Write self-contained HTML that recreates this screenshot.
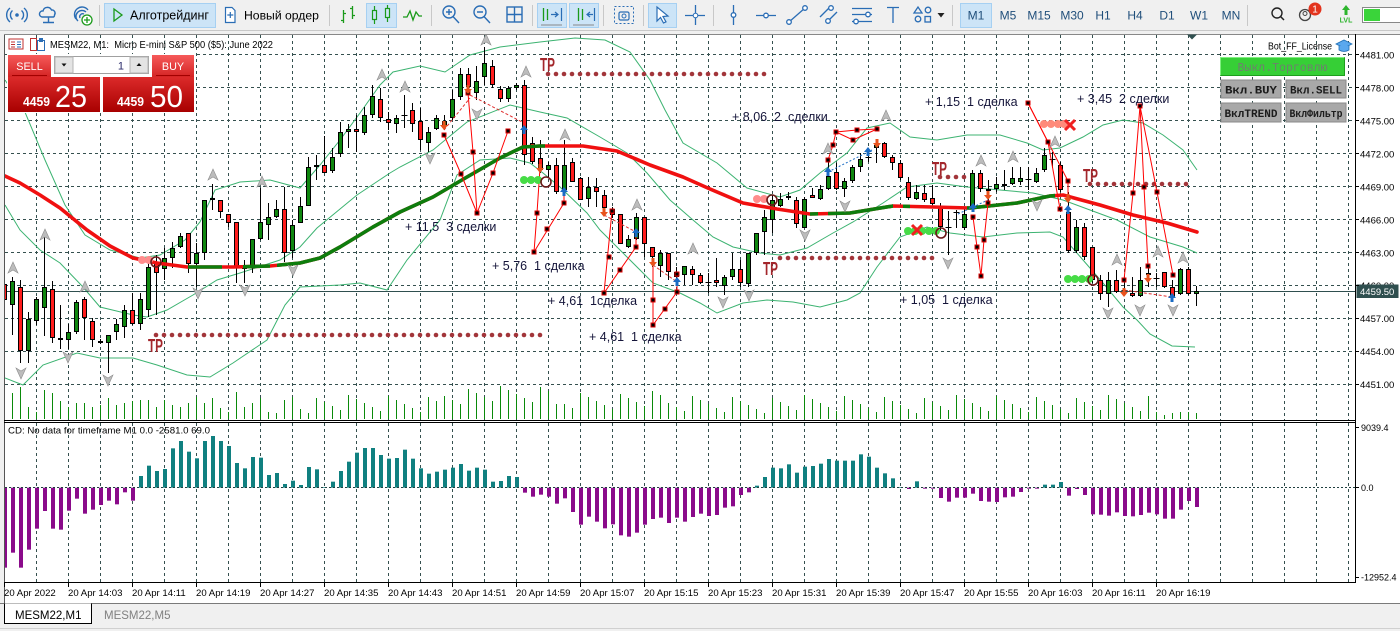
<!DOCTYPE html>
<html><head><meta charset="utf-8">
<style>
html,body{margin:0;padding:0;background:#fff;width:1400px;height:631px;overflow:hidden}
svg{display:block;font-family:"Liberation Sans",sans-serif}
</style></head><body>
<svg id="s" width="1400" height="631" viewBox="0 0 1400 631" xmlns="http://www.w3.org/2000/svg">
<defs>
<clipPath id="cm"><rect x="5" y="35" width="1350" height="385"/></clipPath>
<clipPath id="ci"><rect x="5" y="423" width="1350" height="159"/></clipPath>
<clipPath id="gclip">
<rect x="188" y="0" width="34" height="631"/><rect x="243" y="0" width="27" height="631"/>
<rect x="277" y="0" width="268" height="631"/><rect x="810" y="0" width="8" height="631"/>
<rect x="828" y="0" width="65" height="631"/><rect x="903" y="0" width="7" height="631"/>
<rect x="967" y="0" width="88" height="631"/>
</clipPath>
<linearGradient id="gs" x1="0" y1="0" x2="0" y2="1"><stop offset="0" stop-color="#f65a5a"/><stop offset="1" stop-color="#d42424"/></linearGradient>
<linearGradient id="gp" x1="0" y1="0" x2="0" y2="1"><stop offset="0" stop-color="#dc2a2a"/><stop offset="1" stop-color="#a80000"/></linearGradient>
</defs>

<!-- toolbar -->
<rect x="0" y="0" width="1400" height="31" fill="#f0f0f0"/>
<line x1="0" y1="30.5" x2="1400" y2="30.5" stroke="#c8c8c8"/>
<g fill="none" stroke="#2a6db5" stroke-width="1.4">
<circle cx="17" cy="15" r="1.8" fill="#2a6db5" stroke="none"/>
<path d="M12.5,10.5 A6,6 0 0,0 12.5,19.5 M21.5,10.5 A6,6 0 0,1 21.5,19.5 M10,8 A9,9 0 0,0 10,22 M24,8 A9,9 0 0,1 24,22"/>
<path d="M42,17 a3,3 0 0,1 1,-6 a4.5,4.5 0 0,1 8.5,-1 a3.2,3.2 0 0,1 3,5 a2,2 0 0,1 -1,2 z M48.5,17 V22 M43,22.5 H54"/>
<path d="M76,19 A7,7 0 0,1 88,10 M78,21 A5,5 0 0,1 86,12 M80,18 A3,3 0 0,1 84,14"/>
</g>
<circle cx="87" cy="20" r="5" fill="#fff" stroke="#1a9a1a" stroke-width="1.3"/>
<path d="M87,17 V23 M84,20 H90" stroke="#1a9a1a" stroke-width="1.3"/>
<line x1="99.5" y1="5" x2="99.5" y2="26" stroke="#c8c8c8"/>
<rect x="104.5" y="3.5" width="111" height="24" fill="#cce4f7" stroke="#a6d0f2"/>
<path d="M114,9 L122,15 L114,21 Z" fill="none" stroke="#1a9a1a" stroke-width="1.3"/>
<text x="130" y="19.5" font-size="12.5" fill="#000">Алготрейдинг</text>
<path d="M225.5,7.5 H232 L235,10.5 V22.5 H225.5 Z" fill="#fff" stroke="#2a6db5" stroke-width="1.2"/>
<path d="M230.3,12 V18 M227.3,15 H233.3" stroke="#2a6db5" stroke-width="1.2"/>
<text x="244" y="19.5" font-size="12.2" fill="#000">Новый ордер</text>
<line x1="329.5" y1="5" x2="329.5" y2="26" stroke="#c8c8c8"/>
<path d="M343.5,10 V23 M341,20.5 H343.5 M343.5,13.5 H346 M352.5,6 V19 M350,8.5 H352.5 M352.5,15.5 H355" stroke="#1a9a1a" stroke-width="1.3" fill="none"/>
<rect x="366.5" y="3.5" width="30" height="24" fill="#cce4f7" stroke="#a6d0f2"/>
<path d="M374.5,6 V24 M387.5,5 V22" stroke="#1a9a1a" stroke-width="1.2"/>
<rect x="372.5" y="10.5" width="4" height="9" fill="#cce4f7" stroke="#1a9a1a" stroke-width="1.2"/>
<rect x="385.5" y="8.5" width="4" height="9" fill="#cce4f7" stroke="#1a9a1a" stroke-width="1.2"/>
<polyline points="403,17 407,17 410,11 413,20 416,12 419,16 422,16" fill="none" stroke="#1a9a1a" stroke-width="1.3"/>
<line x1="431.5" y1="5" x2="431.5" y2="26" stroke="#c8c8c8"/>
<g fill="none" stroke="#2a6db5" stroke-width="1.4">
<circle cx="449" cy="12" r="6"/><path d="M453,16.5 L459,23 M446,12 H452 M449,9 V15"/>
<circle cx="480" cy="12" r="6"/><path d="M484,16.5 L490,23 M477,12 H483"/>
<rect x="507" y="7" width="15" height="15"/><path d="M514.5,7 V22 M507,14.5 H522"/>
</g>
<line x1="532.5" y1="5" x2="532.5" y2="26" stroke="#c8c8c8"/>
<rect x="537.5" y="3.5" width="29" height="24" fill="#cce4f7" stroke="#a6d0f2"/>
<rect x="569.5" y="3.5" width="29" height="24" fill="#cce4f7" stroke="#a6d0f2"/>
<path d="M543.5,8 V21 M547.5,9 V20 M578.5,8 V21 M582.5,9 V20" stroke="#1a9a1a" stroke-width="1.3"/>
<path d="M551,14.5 H558 M555,12 L558,14.5 L555,17 M561.5,8 V21 M594.5,8 V21 M587,14.5 H593 M590,12 L587,14.5 L590,17" stroke="#2a6db5" stroke-width="1.2" fill="none"/>
<line x1="541" y1="25" x2="562" y2="25" stroke="#888"/><line x1="573" y1="25" x2="594" y2="25" stroke="#888"/>
<line x1="603.5" y1="5" x2="603.5" y2="26" stroke="#c8c8c8"/>
<rect x="614.5" y="6.5" width="19" height="17" fill="none" stroke="#2a6db5" stroke-dasharray="2,2"/>
<rect x="619" y="12" width="10" height="8" rx="1.5" fill="none" stroke="#2a6db5" stroke-width="1.2"/><circle cx="624" cy="16" r="2" fill="none" stroke="#2a6db5"/>
<line x1="643.5" y1="5" x2="643.5" y2="26" stroke="#c8c8c8"/>
<rect x="648.5" y="3.5" width="28" height="24" fill="#cce4f7" stroke="#a6d0f2"/>
<path d="M657,7 L657,21 L660.5,17.5 L663.5,23 L666,21.8 L663,16.5 L668,16 Z" fill="#fff" stroke="#2a6db5" stroke-width="1.2"/>
<path d="M695.5,5 V25 M685,15.5 H705" stroke="#2a6db5" stroke-width="1.3"/><circle cx="695.5" cy="15.5" r="2.3" fill="#fff" stroke="#2a6db5"/>
<line x1="713.5" y1="5" x2="713.5" y2="26" stroke="#c8c8c8"/>
<g stroke="#2a6db5" stroke-width="1.3" fill="#fff">
<line x1="733.5" y1="5" x2="733.5" y2="25"/><circle cx="733.5" cy="15" r="2.3"/>
<line x1="756" y1="15.5" x2="776" y2="15.5"/><circle cx="766" cy="15.5" r="2.3"/>
<line x1="789" y1="22" x2="805" y2="8"/><circle cx="789" cy="22" r="2.3"/><circle cx="805" cy="8" r="2.3"/>
<line x1="820" y1="17" x2="830" y2="7"/><line x1="826" y1="23" x2="837" y2="12"/><circle cx="828" cy="21" r="2.3"/><circle cx="831" cy="8" r="2.3"/>
<line x1="852" y1="8.5" x2="872" y2="8.5"/><line x1="852" y1="14.5" x2="872" y2="14.5"/><line x1="852" y1="21.5" x2="872" y2="21.5"/><circle cx="868" cy="14.5" r="2.3"/><circle cx="856" cy="21.5" r="2.3"/>
<path d="M887,7.5 H899 M893,7.5 V23" fill="none"/>
<path d="M914,13 L918,7 L922,13 Z" fill="none"/><circle cx="928" cy="10" r="2.8" fill="none"/><circle cx="918" cy="19" r="2.8" fill="none"/><rect x="925" y="16.5" width="5.5" height="5.5" fill="none"/>
</g>
<path d="M937.5,13 H944.5 L941,17.5 Z" fill="#222"/>
<line x1="952.5" y1="5" x2="952.5" y2="26" stroke="#c8c8c8"/>
<rect x="960.5" y="3.5" width="31" height="24" fill="#cce4f7" stroke="#a6d0f2"/>
<g font-size="12" fill="#1f4e7a" text-anchor="middle">
<text x="976" y="19.5">M1</text><text x="1008" y="19.5">M5</text><text x="1039" y="19.5">M15</text><text x="1072" y="19.5">M30</text><text x="1103" y="19.5">H1</text><text x="1135" y="19.5">H4</text><text x="1167" y="19.5">D1</text><text x="1199" y="19.5">W1</text><text x="1231" y="19.5">MN</text>
</g>
<line x1="1247.5" y1="5" x2="1247.5" y2="26" stroke="#c8c8c8"/>
<circle cx="1277" cy="13" r="5" fill="none" stroke="#222" stroke-width="1.4"/><line x1="1280.5" y1="16.5" x2="1284" y2="20" stroke="#222" stroke-width="1.5"/>
<circle cx="1305" cy="15" r="5.5" fill="none" stroke="#444" stroke-width="1.3"/><circle cx="1305" cy="13.5" r="2" fill="none" stroke="#444"/>
<circle cx="1315" cy="9" r="6.5" fill="#e3331d"/><text x="1315" y="12.5" font-size="10" fill="#fff" text-anchor="middle">1</text>
<path d="M1346,5 L1350,10 H1347.5 V15 H1344.5 V10 H1342 Z" fill="#2db52d"/>
<text x="1346" y="22.5" font-size="7" fill="#2db52d" text-anchor="middle" font-weight="bold">LVL</text>
<rect x="1362.5" y="7.5" width="40" height="15" fill="#fff" stroke="#888"/><rect x="1364" y="9" width="16" height="12" fill="#3ad43a"/>

<!-- window frame -->
<rect x="0" y="31" width="1400" height="3" fill="#f0f0f0"/>
<rect x="0" y="31" width="4" height="600" fill="#f0f0f0"/>
<line x1="4.5" y1="34" x2="4.5" y2="603" stroke="#555"/>
<line x1="4" y1="34.5" x2="1400" y2="34.5" stroke="#888"/>

<g id="grid" stroke="#35504f" stroke-width="1" stroke-dasharray="3,3" fill="none"></g>

<g clip-path="url(#cm)">
<g id="bands" fill="none" stroke="#3cb371" stroke-width="1"></g>
<g id="vol" stroke="#0a8a0a" stroke-width="1"></g>
<line x1="5" y1="291.5" x2="1355" y2="291.5" stroke="#2f4f4f" stroke-width="1"/>
<g id="candles"></g>
<g id="ma" fill="none" stroke-width="3.6" stroke-linejoin="round" stroke-linecap="round"></g>
<g id="tp" fill="#a2353a"></g>
<g id="trades"></g>
<g id="marks"></g>
</g>
<g clip-path="url(#ci)" id="hist"></g>
<line x1="5" y1="487.5" x2="1355" y2="487.5" stroke="#1f3f3f" stroke-dasharray="2,2"/>

<!-- separators / axes -->
<line x1="4" y1="420.5" x2="1356" y2="420.5" stroke="#000"/>
<line x1="4" y1="422.5" x2="1356" y2="422.5" stroke="#000"/>
<line x1="1355.5" y1="34" x2="1355.5" y2="583" stroke="#000"/>
<line x1="4" y1="582.5" x2="1356" y2="582.5" stroke="#000"/>
<path d="M1187,34.5 H1197 L1192,39.5 Z" fill="#2f4f4f"/>

<!-- price axis -->
<g font-size="9.5" fill="#000">
<text x="1360" y="58.5">4481.00</text>
<text x="1360" y="91.5">4478.00</text>
<text x="1360" y="124.5">4475.00</text>
<text x="1360" y="157.5">4472.00</text>
<text x="1360" y="190.5">4469.00</text>
<text x="1360" y="223.5">4466.00</text>
<text x="1360" y="256.5">4463.00</text>
<text x="1360" y="289">4460.00</text>
<text x="1360" y="322">4457.00</text>
<text x="1360" y="355">4454.00</text>
<text x="1360" y="388">4451.00</text>
</g>
<rect x="1356.5" y="284.5" width="42" height="13.5" fill="#2f4f4f"/>
<text x="1360" y="295" font-size="9.5" fill="#fff">4459.50</text>
<g font-size="9" fill="#000">
<text x="1361" y="431">9039.4</text>
<text x="1361" y="491">0.0</text>
<text x="1361" y="580.5">-12952.4</text>
</g>
<text x="8" y="433.5" font-size="9" fill="#000" textLength="202" lengthAdjust="spacingAndGlyphs">CD: No data for timeframe M1 0.0 -2581.0 69.0</text>

<!-- time axis -->
<g font-size="9.6" fill="#000">
<text x="4" y="596">20 Apr 2022</text>
<text x="68" y="596">20 Apr 14:03</text>
<text x="132" y="596">20 Apr 14:11</text>
<text x="196" y="596">20 Apr 14:19</text>
<text x="260" y="596">20 Apr 14:27</text>
<text x="324" y="596">20 Apr 14:35</text>
<text x="388" y="596">20 Apr 14:43</text>
<text x="452" y="596">20 Apr 14:51</text>
<text x="516" y="596">20 Apr 14:59</text>
<text x="580" y="596">20 Apr 15:07</text>
<text x="644" y="596">20 Apr 15:15</text>
<text x="708" y="596">20 Apr 15:23</text>
<text x="772" y="596">20 Apr 15:31</text>
<text x="836" y="596">20 Apr 15:39</text>
<text x="900" y="596">20 Apr 15:47</text>
<text x="964" y="596">20 Apr 15:55</text>
<text x="1028" y="596">20 Apr 16:03</text>
<text x="1092" y="596">20 Apr 16:11</text>
<text x="1156" y="596">20 Apr 16:19</text>
</g>

<!-- tabs -->
<rect x="0" y="603" width="1400" height="28" fill="#f0f0f0"/>
<line x1="0" y1="603.5" x2="1400" y2="603.5" stroke="#7a7a7a"/>
<path d="M4.5,603.5 V623.5 H91.5 V603.5" fill="#fff" stroke="#000"/>
<text x="15" y="619" font-size="11.5" fill="#000">MESM22,M1</text>
<text x="104" y="619" font-size="11.5" fill="#808080">MESM22,M5</text>
<line x1="0" y1="628.5" x2="1400" y2="628.5" stroke="#d0d0d0"/>

<!-- TP labels -->
<g font-size="18" font-weight="bold" fill="#a3262b">
<text x="540" y="71" textLength="15" lengthAdjust="spacingAndGlyphs">TP</text>
<text x="148" y="352" textLength="15" lengthAdjust="spacingAndGlyphs">TP</text>
<text x="763" y="275" textLength="15" lengthAdjust="spacingAndGlyphs">TP</text>
<text x="932" y="175" textLength="15" lengthAdjust="spacingAndGlyphs">TP</text>
<text x="1083" y="182" textLength="15" lengthAdjust="spacingAndGlyphs">TP</text>
</g>

<!-- annotations -->
<g font-size="12.5" fill="#15153a" xml:space="preserve">
<text x="405" y="231" xml:space="preserve">+ 11,5  3 сделки</text>
<text x="492" y="270" xml:space="preserve">+ 5,76  1 сделка</text>
<text x="548" y="305" xml:space="preserve">+ 4,61  1сделка</text>
<text x="589" y="341" xml:space="preserve">+ 4,61  1 сделка</text>
<text x="732" y="121" xml:space="preserve">+ 8,06  2  сделки</text>
<text x="925" y="106" xml:space="preserve">+ 1,15  1 сделка</text>
<text x="1077" y="103" xml:space="preserve">+ 3,45  2 сделки</text>
<text x="900" y="304" xml:space="preserve">+ 1,05  1 сделка</text>
</g>

<!-- chart header -->
<rect x="9" y="39" width="14" height="10" fill="#fff" stroke="#c03030"/>
<path d="M11,42 H15 M11,44.5 H15 M11,47 H15" stroke="#c03030"/><path d="M17,42 H21 M17,44.5 H21 M17,47 H21" stroke="#2a6db5"/>
<path d="M30.5,38.5 H36.5 V50.5 H30.5 Z" fill="#fff" stroke="#c03030"/><path d="M37.5,40.5 H44.5 V50.5 H37.5 Z" fill="#fff" stroke="#2a6db5"/><rect x="39" y="38" width="4" height="4" fill="#2a6db5"/>
<text x="50" y="48" font-size="9.7" fill="#000" textLength="223" lengthAdjust="spacingAndGlyphs" xml:space="preserve">MESM22, M1:  Micro E-mini S&amp;P 500 ($5): June 2022</text>

<!-- trade panel -->
<rect x="7" y="54" width="189" height="59" fill="#fff"/>
<rect x="8" y="55" width="43" height="22" fill="url(#gs)"/>
<line x1="12" y1="75.5" x2="47" y2="75.5" stroke="#a30000"/>
<text x="29.5" y="70" font-size="10.8" fill="#fff" text-anchor="middle">SELL</text>
<rect x="152" y="55" width="42" height="22" fill="url(#gs)"/>
<line x1="156" y1="75.5" x2="190" y2="75.5" stroke="#a30000"/>
<text x="173" y="70" font-size="10.8" fill="#fff" text-anchor="middle">BUY</text>
<rect x="54.5" y="56.5" width="94" height="17" fill="#fff" stroke="#a0a0a0"/>
<rect x="55" y="57" width="18" height="16" fill="#e4e4e4" stroke="#b5b5b5"/>
<rect x="130" y="57" width="18" height="16" fill="#e4e4e4" stroke="#b5b5b5"/>
<path d="M61.5,63.5 H66.5 L64,66.5 Z" fill="#111"/><path d="M136.5,66 H141.5 L139,63 Z" fill="#111"/>
<text x="124" y="69.5" font-size="11" fill="#2a2a6a" text-anchor="end">1</text>
<rect x="8" y="77" width="92" height="35" fill="url(#gp)"/>
<rect x="103" y="77" width="91" height="35" fill="url(#gp)"/>
<text x="23" y="106" font-size="12.5" font-weight="bold" fill="#fff" textLength="27" lengthAdjust="spacingAndGlyphs">4459</text>
<text x="55" y="107" font-size="31" fill="#fff" textLength="32" lengthAdjust="spacingAndGlyphs">25</text>
<text x="117" y="106" font-size="12.5" font-weight="bold" fill="#fff" textLength="27" lengthAdjust="spacingAndGlyphs">4459</text>
<text x="150" y="107" font-size="31" fill="#fff" textLength="33" lengthAdjust="spacingAndGlyphs">50</text>

<!-- right panel -->
<text x="1268" y="49.5" font-size="9.8" fill="#000" textLength="64" lengthAdjust="spacingAndGlyphs">Bot_FF_License</text>
<path d="M1336,44 L1344,40 L1352,44 L1344,48 Z" fill="#5aa8ee" stroke="#1f6fb5" stroke-width="0.8"/>
<path d="M1339,46 V50 Q1344,53 1349,50 V46" fill="#5aa8ee" stroke="#1f6fb5" stroke-width="0.8"/>
<rect x="1220" y="57" width="125" height="19" fill="#36cf36"/>
<path d="M1220.5,75.5 V57.5 H1344.5" fill="none" stroke="#7ff07f"/><path d="M1220.5,75.5 H1344.5 V57.5" fill="none" stroke="#1e9e1e"/>
<text x="1282.5" y="71" font-size="11.5" fill="#6f7f6f" text-anchor="middle" font-family="Liberation Mono, monospace" textLength="90" lengthAdjust="spacingAndGlyphs">Выкл.Торговлю</text>
<g font-family="Liberation Mono, monospace" font-weight="bold" font-size="11" fill="#1c1c1c" text-anchor="middle">
<rect x="1221" y="80" width="60" height="18" fill="#a8a8a8" stroke="#8a8a8a"/>
<rect x="1286" y="80" width="60" height="18" fill="#a8a8a8" stroke="#8a8a8a"/>
<rect x="1221" y="103" width="60" height="19" fill="#a8a8a8" stroke="#8a8a8a"/>
<rect x="1286" y="103" width="60" height="19" fill="#a8a8a8" stroke="#8a8a8a"/>
<text x="1251" y="93.5" textLength="52" lengthAdjust="spacingAndGlyphs">Вкл.BUY</text>
<text x="1316" y="93.5" textLength="52" lengthAdjust="spacingAndGlyphs">Вкл.SELL</text>
<text x="1251" y="117" textLength="53" lengthAdjust="spacingAndGlyphs">ВклTREND</text>
<text x="1316" y="117" textLength="53" lengthAdjust="spacingAndGlyphs">ВклФильтр</text>
</g>
</svg>

<script>
(function(){
var NS='http://www.w3.org/2000/svg';
function el(p,t,a){var e=document.createElementNS(NS,t);for(var k in a)e.setAttribute(k,a[k]);p.appendChild(e);return e;}
function $(id){return document.getElementById(id);}
var g=$('grid');
for(var k=1;k<=42;k++){var x=4.5+32*k;
 el(g,'line',{x1:x,y1:35,x2:x,y2:420});
 el(g,'line',{x1:x,y1:423,x2:x,y2:582});}
var hy=[54.5,87.5,120.5,153.5,186.5,219.5,252.5,285.5,318.5,351.5,384.5];
hy.forEach(function(y){el(g,'line',{x1:5,y1:y,x2:1355,y2:y});});
var tk=document.createElementNS(NS,'g');tk.setAttribute('stroke','#000');$('s').appendChild(tk);
hy.forEach(function(y){el(tk,'line',{x1:1355,y1:y,x2:1359,y2:y});});
[427.5,487.5,577.5].forEach(function(y){el(tk,'line',{x1:1355,y1:y,x2:1359,y2:y});});
for(var k=0;k<19;k++){var x=4.5+64*k;el(tk,'line',{x1:x,y1:582,x2:x,y2:587});}
var U="5,80 22,105 45,160 65,205 85,235 110,250 140,258 160,255 185,240 200,222 215,190 240,182 270,180 300,188 320,165 340,140 360,113 380,85 393,72 420,66 445,72 470,55 500,47 540,42 575,38 605,40 630,52 650,80 665,110 683,143 717,163 747,188 780,197 800,190 820,173 847,153 867,128 890,123 910,137 937,140 967,135 1000,135 1027,143 1043,150 1060,148 1083,137 1103,125 1123,120 1143,123 1163,135 1183,150 1197,170";
var M="5,205 20,230 40,250 60,263 83,287 100,307 133,315 147,317 167,310 193,295 217,280 240,273 280,260 300,247 317,228 357,195 390,173 400,167 433,150 467,122 510,105 540,112 567,118 600,137 627,153 647,173 670,200 693,220 713,237 733,247 760,253 780,255 807,248 833,233 853,222 883,203 907,187 937,183 967,187 1000,190 1033,193 1063,200 1090,210 1117,220 1150,237 1183,247 1197,253";
var L="5,378 23,385 43,365 77,353 100,358 133,358 157,365 187,375 210,377 233,363 267,340 285,305 300,287 340,285 360,283 387,290 407,260 440,220 457,175 480,160 510,158 530,163 543,173 560,187 587,213 600,230 627,257 653,283 680,293 700,303 717,313 743,303 767,300 793,302 820,307 847,300 860,293 877,267 900,237 927,227 950,233 983,237 1017,233 1050,232 1063,237 1083,260 1103,283 1123,307 1137,320 1150,334 1172,346 1195,347";
[U,M,L].forEach(function(p){el($('bands'),'polyline',{points:p});});
var VT={0:395,1:393,2:387,3:407,4:412,5:390,6:393,7:401,8:407,9:403,10:403,11:407,12:405,13:398,14:405,15:403,16:401,17:400,18:400,19:407,20:400,21:405,22:407,23:403,24:397,25:403,26:398,27:408,28:412,29:392,30:407,31:403,32:398,33:412,34:413,35:400,36:397,144:412,145:415,146:413,147:412,148:412,149:413};
for(var k=0;k<150;k++){var x=4.5+8*k;var t=VT[k];
 if(t===undefined){var b=(k>=55&&k<=68)?9:((k>=70&&k<=82)?4:0);t=419-(6+(k*53)%19+b);}
 el($('vol'),'line',{x1:x,y1:t,x2:x,y2:419});}
var C=[['r',284,300,280,303],['g',281,305,277,335],['r',287,351,280,363],['g',319,351,312,363],['g',299,321,297,325],['g',287,308,233,336],['r',289,338,281,343],['g',338,340,305,349],['g',332,340,324,349],['g',302,332,300,334],
['r',299,318,297,340],['r',321,340,318,347],['r',341,343,339,344],['g',335,343,335,373],['g',324,332,319,340],['g',310,327,305,338],['r',310,324,293,325],['g',299,324,293,330],['g',267,310,257,317],['r',262,273,255,315],
['g',258,269,248,280],['g',248,258,242,268],['g',236,247,233,248],['r',233,264,233,273],['g',253,264,243,287],['g',200,253,200,260],['g',198,200,184,210],['r',200,212,200,218],['r',214,223,214,227],['r',222,268,222,283],
['g',266,269,260,283],['g',239,268,239,273],['g',222,239,188,240],['g',217,225,203,240],['g',209,217,200,218],['r',209,253,187,262],['g',225,251,220,258],['g',206,223,197,223],['g',167,206,157,206],['r',165,167,155,180],
['r',165,173,136,173],['g',157,171,148,173],['g',132,154,122,157],['g',129,132,124,148],['r',129,132,115,152],['g',115,133,107,135],['g',96,115,85,118],['r',99,118,88,122],['r',119,123,112,130],['g',118,124,115,133],
['d',115,115,95,128],['r',110,124,103,132],['r',121,140,108,150],['g',132,143,127,152],['g',118,129,115,130],['g',121,126,115,130],['g',99,118,90,120],['g',74,97,68,100],['r',74,87,68,95],['g',81,93,66,100],
['g',63,77,47,85],['r',66,85,60,88],['r',89,99,86,102],['g',88,99,86,102],['g',85,88,83,90],['r',85,155,80,165],['r',143,162,137,164],['r',158,170,140,173],['g',165,170,162,177],['r',165,192,158,194],
['g',165,190,140,192],['r',162,182,158,182],['r',178,200,177,200],['g',187,199,177,207],['r',187,192,178,207],['r',195,208,190,213],['r',209,215,207,218],['r',214,244,214,244],['g',239,247,235,248],['g',217,239,213,240],
['r',217,244,217,257],['r',247,257,247,267],['g',253,266,250,277],['r',253,272,253,280],['r',272,277,267,282],['g',266,275,266,285],['r',269,275,266,285],['r',275,283,273,284],['d',282,282,273,293],['r',280,283,258,287],
['g',277,286,275,295],['g',269,277,253,280],['r',269,283,260,287],['g',253,284,253,287],['g',233,253,233,255],['g',217,232,210,255],['g',200,220,195,233],['g',199,206,193,207],['r',196,198,192,200],['r',200,224,197,228],
['g',199,228,197,228],['r',195,198,188,198],['g',189,199,185,200],['g',176,189,162,190],['r',172,189,163,190],['g',181,189,178,197],['g',167,181,165,183],['g',159,167,153,172],['d',157,157,150,162],['g',145,148,142,163],
['r',143,157,142,158],['r',157,163,155,170],['r',163,178,160,180],['r',182,198,177,200],['g',192,199,185,200],['r',193,200,185,202],['r',198,204,185,205],['r',207,227,203,230],['d',227,227,211,255],['d',212,212,210,228],
['g',214,228,207,230],['g',173,208,170,210],['r',173,189,170,192],['r',189,191,180,205],['g',184,189,177,192],['g',184,186,170,190],['g',178,184,167,185],['g',178,182,167,185],['d',179,179,167,190],['g',173,182,168,183],
['g',155,170,148,172],['d',159,159,152,168],['r',165,190,162,192],['r',212,251,192,253],['g',227,251,220,253],['r',227,257,223,260],['r',247,280,247,283],['r',280,294,275,300],['g',280,294,272,307],['r',280,292,270,293],
['d',290,290,280,295],['r',293,296,277,297],['g',280,296,267,297],['g',273,275,267,287],['d',278,278,273,287],['r',272,287,272,288],['r',287,297,280,300],['g',269,294,268,295],['r',269,294,267,295],['g',291,294,286,306]];
var cg=$('candles');
C.forEach(function(c,k){var cx=4.5+8*k;
 el(cg,'line',{x1:cx,y1:c[3],x2:cx,y2:c[4],stroke:'#000','stroke-width':1});
 if(c[0]==='d'){el(cg,'line',{x1:cx-3,y1:c[1]+0.5,x2:cx+3,y2:c[1]+0.5,stroke:'#000','stroke-width':1});return;}
 var h=Math.max(c[2]-c[1],2);
 el(cg,'rect',{x:cx-2.5,y:c[1],width:5,height:h,fill:'#000'});
 if(h>2)el(cg,'rect',{x:cx-1.5,y:c[1]+1,width:3,height:h-2,fill:c[0]==='g'?'#0f870f':'#ff1c1c'});
});
var MA="5,176 20,183 40,195 60,208 87,230 110,246 133,258 157,263 187,267 233,267 270,266 300,263 320,258 340,247 373,227 400,212 433,197 467,177 500,158 523,147 540,146 583,146 617,151 650,165 683,177 710,189 743,203 777,209 810,214 850,213 893,206 933,207 970,208 1017,203 1050,196 1063,195 1100,205 1133,215 1167,223 1197,232";
el($('ma'),'polyline',{points:MA,stroke:'#f01010'});
el($('ma'),'polyline',{points:MA,stroke:'#0d7d0d','clip-path':'url(#gclip)'});
function dots(x0,x1,y){for(var x=x0;x<=x1;x+=8)el($('tp'),'circle',{cx:x,cy:y,r:2.3});}
dots(548,765,74);dots(156,540,335);dots(780,935,258);dots(940,966,177);dots(1090,1190,184);
var mk=$('marks');
function circ(xs,y,col){xs.forEach(function(x){el(mk,'circle',{cx:x,cy:y,r:4,fill:col});});}
function ring(x,y){el(mk,'circle',{cx:x,cy:y,r:5,fill:'none',stroke:'#6a1818','stroke-width':1.6});}
function X(x,y){el(mk,'path',{d:'M'+(x-5)+','+(y-5)+'L'+(x+5)+','+(y+5)+'M'+(x+5)+','+(y-5)+'L'+(x-5)+','+(y+5),stroke:'#f02020','stroke-width':3});}
circ([142,149],260,'#ff8c8c');ring(156,262);
circ([524,531,538],180,'#46dc46');ring(546,182);
circ([757,764],199,'#ff8c8c');ring(772,200);
circ([908,915,922,929,936],231,'#46dc46');X(917,230);ring(941,233);
circ([1044,1051,1058,1064],124,'#ff8a7a');X(1070,125);
circ([1068,1075,1082,1089],279,'#46dc46');ring(1093,280);
var tr=$('trades');
var PL=[[[468,93],[473,152],[477,213]],[[444,135],[461,174],[477,213]],[[477,213],[493,173],[508,131]],
[[540,168],[537,213],[534,252],[564,203],[564,195]],
[[612,211],[604,293],[636,247],[636,236]],
[[653,265],[653,325],[677,292],[677,274]],
[[828,160],[833,145],[836,132],[857,130],[877,129]],[[836,132],[853,140],[877,129]],
[[973,217],[977,247],[981,276],[984,240],[988,203]],
[[1028,103],[1048,142],[1060,209]],[[1028,103],[1068,181],[1068,200]],
[[1140,106],[1133,193],[1124,280]],[[1140,106],[1144,187],[1148,266]],[[1140,106],[1157,192],[1173,275]]];
PL.forEach(function(p){el(tr,'polyline',{points:p.map(function(q){return q.join(',');}).join(' '),fill:'none',stroke:'#f00','stroke-width':1});});
[[[470,95],[522,122]],[[604,215],[636,232]],[[653,265],[677,282]],[[444,130],[470,98]],[[1124,290],[1172,297]]].forEach(function(p){
 el(tr,'line',{x1:p[0][0],y1:p[0][1],x2:p[1][0],y2:p[1][1],stroke:'#e03030','stroke-dasharray':'3,2'});});
el(tr,'line',{x1:828,y1:172,x2:872,y2:150,stroke:'#1a6bc4','stroke-dasharray':'2,2'});
el(tr,'line',{x1:958,y1:214,x2:988,y2:200,stroke:'#1a6bc4','stroke-dasharray':'2,2'});
var SQ=[[444,135],[461,174],[468,93],[473,152],[477,213],[493,173],[508,131],[537,213],[534,252],[547,229],[564,203],
[612,211],[609,257],[604,293],[620,270],[636,247],[653,300],[653,325],[665,309],[677,292],[677,274],
[828,160],[833,145],[836,132],[857,130],[877,129],[853,140],
[973,217],[977,247],[981,276],[984,240],[988,203],[1028,103],[1048,142],[1060,209],[1068,181],
[1140,106],[1133,193],[1124,280],[1144,187],[1148,266],[1157,192],[1173,275]];
SQ.forEach(function(q){el(tr,'rect',{x:q[0]-2.5,y:q[1]-2.5,width:5,height:5,fill:'#e00000'});el(tr,'rect',{x:q[0]-1.5,y:q[1]-1.5,width:3,height:3,fill:'#000'});});
function gUp(x,y){el(mk,'polygon',{points:[x,y-6,x+5,y+5,x,y+2,x-5,y+5].join(','),fill:'#bcbcbc',stroke:'#8c8c8c','stroke-width':0.6});}
function gDn(x,y){el(mk,'polygon',{points:[x,y+6,x+5,y-5,x,y-2,x-5,y-5].join(','),fill:'#bcbcbc',stroke:'#8c8c8c','stroke-width':0.6});}
[[13,268],[45,235],[85,287],[213,175],[262,182],[382,75],[405,87],[486,40],[526,72],[565,135],[637,205],[693,249],[828,149],[886,116],[981,161],[1013,157],[1055,142],[1117,260],[1158,252],[1183,258]].forEach(function(p){gUp(p[0],p[1]);});
[[21,373],[68,357],[108,380],[198,293],[245,290],[293,270],[430,158],[477,114],[723,302],[749,295],[805,235],[845,206],[948,263],[1037,205],[1108,313],[1140,310],[1173,310]].forEach(function(p){gDn(p[0],p[1]);});
function bUp(x,y){el(mk,'polygon',{points:[x,y-5,x+4,y,x+1.5,y,x+1.5,y+4,x-1.5,y+4,x-1.5,y,x-4,y].join(','),fill:'#1a6bc4'});}
function oDn(x,y){el(mk,'polygon',{points:[x,y+5,x+4,y,x+1.5,y,x+1.5,y-4,x-1.5,y-4,x-1.5,y,x-4,y].join(','),fill:'#e8521c'});}
[[524,130],[564,192],[636,233],[677,282],[828,172],[868,152],[973,208],[1068,210],[1172,298]].forEach(function(p){bUp(p[0],p[1]);});
[[444,125],[468,89],[540,168],[604,212],[653,262],[877,143],[988,195],[1068,198],[1124,292],[1148,278]].forEach(function(p){oDn(p[0],p[1]);});
var H=[458,413,458,404,341,288,341,344,287,251,296,284,270,257,268,232,257,
183,152,168,162,100,78,110,130,78,63,78,93,144,160,126,128,180,174,207,197,210,156,163,216,200,168,140,113,99,99,120,131,129,104,131,160,176,170,164,158,147,167,158,164,200,198,183,186,
233,245,239,245,266,250,291,329,305,320,340,328,361,365,353,329,312,308,324,308,320,306,296,303,300,278,274,240,232,
212,186,158,160,148,173,155,153,146,132,137,137,137,118,125,158,175,190,216,
222,199,220,219,
249,260,248,248,236,258,260,261,247,245,231,220,220,
209,209,201,
242,222,240,298,299,302,292,303,304,300,293,298,311,311,284,258,276];
var hg=$('hist'),z=487.67;
H.forEach(function(v,i){var y=415+v/3;var x=3+8*i;
 if(y<z)el(hg,'rect',{x:x,y:y,width:4,height:z-y,fill:'#108080'});
 else el(hg,'rect',{x:x,y:z,width:4,height:Math.max(y-z,1),fill:'#8a0a8a'});});
})();
</script>
</body></html>
